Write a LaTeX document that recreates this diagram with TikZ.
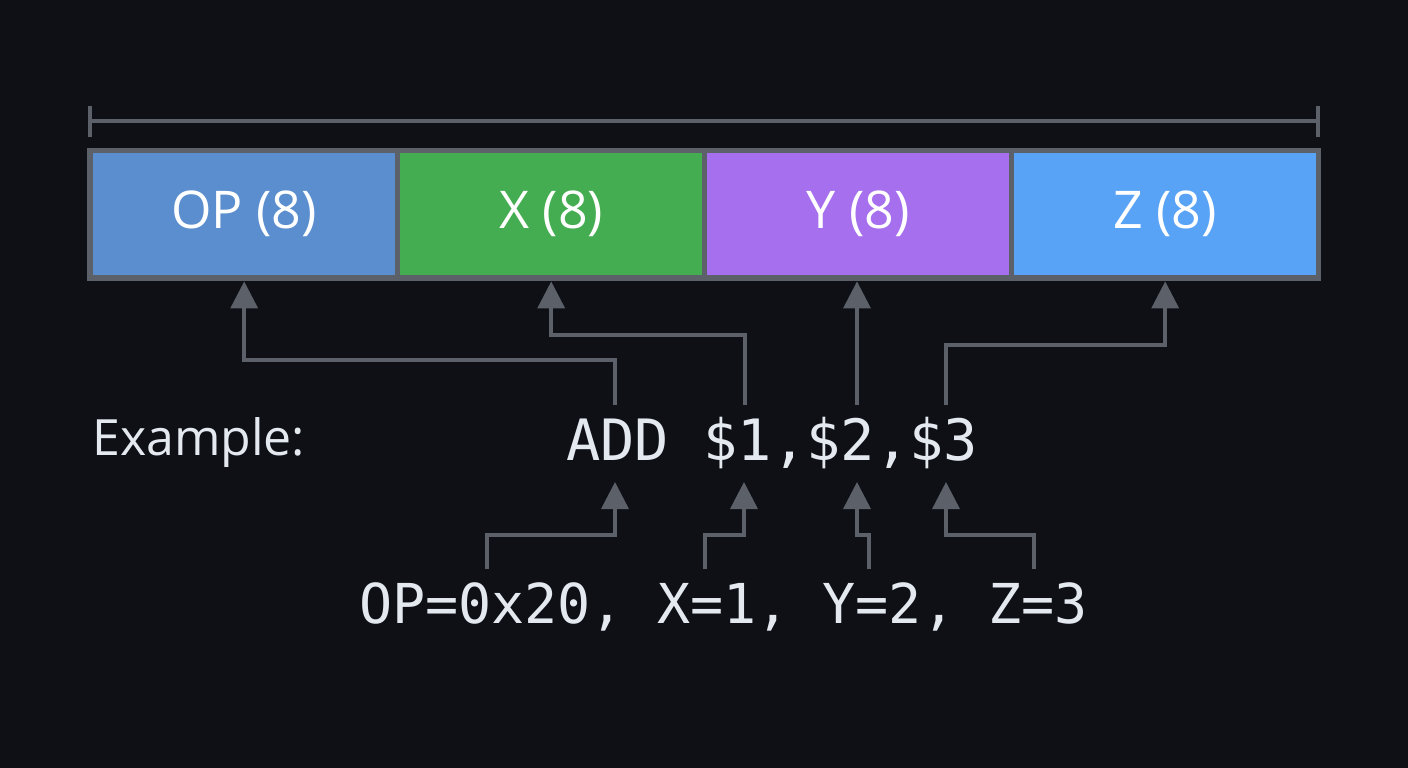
\documentclass[tikz,border=0pt]{standalone}
\usepackage{fontspec}
\setmainfont{Open Sans}
\newfontfamily\monof{DejaVu Sans Mono}
\usetikzlibrary{arrows.meta}
\definecolor{bgc}{HTML}{0E1016}
\definecolor{linec}{HTML}{5C6169}
\definecolor{opc}{HTML}{5A8ECF}
\definecolor{xc}{HTML}{45AD51}
\definecolor{yc}{HTML}{A56FED}
\definecolor{zc}{HTML}{58A3F5}
\definecolor{txtc}{HTML}{E4E9F0}
\tikzset{
  cell/.style={minimum width=302pt,minimum height=122pt,inner sep=0pt,text=white,font=\fontsize{52}{56}\selectfont},
  conn/.style={draw=linec,line width=3.5pt,-{Triangle[width=27pt,length=27pt]}},
  bracket/.style={draw=linec,line width=3.5pt},
}
\begin{document}
\begin{tikzpicture}[x=1pt,y=-1pt]
\useasboundingbox[fill=bgc] (0,0) rectangle (1408,768);
% bracket
\coordinate (bl) at (90,121);
\coordinate (br) at (1318,121);
\draw[bracket] (bl) -- (br);
\draw[bracket] (90,106) -- (90,137);
\draw[bracket] (1318,106) -- (1318,137);
% frame
\node[fill=linec,minimum width=1234pt,minimum height=133pt,inner sep=0pt,anchor=north west] (frame) at (87,148) {};
\node[cell,fill=opc,anchor=north west] (op) at (93,153) {OP (8)};
\node[cell,fill=xc,anchor=north west] (xf) at (400,153) {X (8)};
\node[cell,fill=yc,anchor=north west] (yf) at (707,153) {Y (8)};
\node[cell,fill=zc,anchor=north west] (zf) at (1014,153) {Z (8)};
% texts
\node[anchor=west,text=txtc,font=\fontsize{50}{54}\selectfont,inner sep=0pt] (ex) at (92,443) {Example:};
\node[anchor=west,text=txtc,font=\monof\fontsize{57}{60}\selectfont,inner sep=0pt] (asm) at (566,443) {ADD \$1,\$2,\$3};
\node[anchor=west,text=txtc,font=\monof\fontsize{55}{60}\selectfont,inner sep=0pt] (vals) at (359,607) {OP=0x20, X=1, Y=2, Z=3};
% upper connector start points (top of assembly text)
\coordinate (a1) at (615,405);
\coordinate (a2) at (745,405);
\coordinate (a3) at (857,405);
\coordinate (a4) at (946,405);
\draw[conn] (a1) -- ++(0,-45) -| (op.south |- frame.south);
\draw[conn] (a2) -- ++(0,-70) -| (xf.south |- frame.south);
\draw[conn] (a3) -- (a3 |- frame.south);
\draw[conn] (a4) -- ++(0,-60) -| (zf.south |- frame.south);
% lower connectors
\coordinate (b1) at (487,569); \coordinate (t1) at (615,482);
\coordinate (b2) at (705,569); \coordinate (t2) at (744,482);
\coordinate (b3) at (869,569); \coordinate (t3) at (857,482);
\coordinate (b4) at (1034,569); \coordinate (t4) at (946,482);
\draw[conn] (b1) -- ++(0,-34) -| (t1);
\draw[conn] (b2) -- ++(0,-34) -| (t2);
\draw[conn] (b3) -- ++(0,-34) -| (t3);
\draw[conn] (b4) -- ++(0,-34) -| (t4);
\end{tikzpicture}
\end{document}
